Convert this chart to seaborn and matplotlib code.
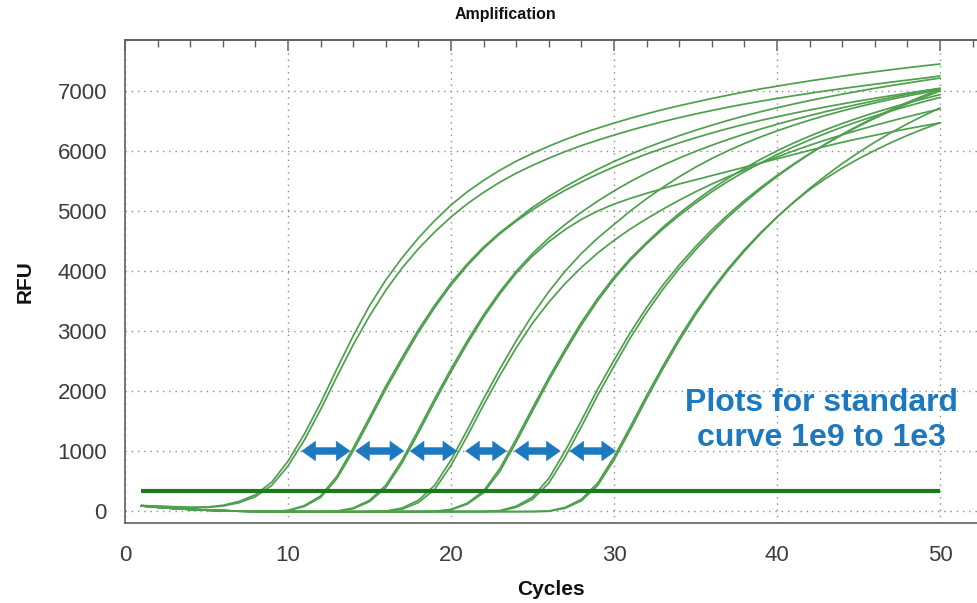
import numpy as np
import pandas as pd
import matplotlib
matplotlib.use("Agg")
import matplotlib.pyplot as plt
import seaborn as sns
from matplotlib.ticker import MultipleLocator

# ---------------- data ----------------
cycles = list(range(1, 51))

A1 = [92,82,72,64,66,95,160,270,480,830, 1280,1800,2370,2920,3420,3850,4220,4550,4840,5100,
      5320,5510,5680,5830,5960,6080,6190,6290,6380,6465, 6545,6620,6690,6755,6815,6875,6930,6985,7035,7080,
      7125,7168,7208,7247,7285,7320,7355,7388,7420,7450]
A2 = [86,76,67,58,58,82,138,238,425,750, 1180,1690,2240,2770,3250,3680,4050,4370,4650,4900,
      5120,5310,5480,5630,5760,5880,5990,6090,6180,6265, 6345,6420,6490,6555,6617,6675,6730,6782,6830,6876,
      6920,6962,7002,7040,7077,7113,7148,7182,7215,7250]
B1 = [88,64,44,27,15,6,-2,-6,-8,10, 90,250,580,1050,1560,2080,2560,3020,3430,3800,
      4120,4400,4640,4850,5060,5240,5405,5555,5695,5825, 5945,6055,6158,6255,6345,6430,6510,6585,6655,6720,
      6782,6840,6895,6947,6997,7045,7090,7133,7175,7215]
B2 = [84,60,41,25,13,4,-3,-7,-9,5, 75,225,540,1000,1510,2030,2510,2975,3390,3765,
      4090,4375,4620,4830,5020,5190,5345,5485,5615,5735, 5845,5950,6045,6135,6220,6300,6375,6445,6510,6570,
      6628,6683,6735,6785,6833,6878,6922,6964,7005,7045]
C1 = [90,66,45,28,16,7,-1,-5,-8,-10, -11,-11,-2,50,178,428,850,1352,1872,2368,
      2836,3270,3656,3996,4292,4548,4775,4980,5165,5335, 5490,5632,5762,5882,5993,6096,6192,6282,6366,6445,
      6520,6590,6657,6720,6780,6837,6892,6944,6994,7042]
C2 = [86,63,43,27,15,6,-2,-6,-9,-11, -12,-12,-5,38,155,390,800,1300,1820,2320,
      2790,3230,3620,3965,4250,4490,4690,4860,5000,5115, 5210,5295,5375,5450,5520,5590,5660,5730,5800,5870,
      5940,6010,6080,6145,6205,6262,6317,6370,6420,6470]
D1 = [87,64,44,27,15,6,-2,-6,-9,-10, -11,-11,-12,-11,-9,-2,50,178,428,850,
      1352,1872,2368,2836,3270,3656,3996,4292,4548,4775, 5000,5205,5395,5570,5730,5875,6005,6125,6235,6335,
      6428,6514,6594,6668,6737,6801,6861,6917,6969,7018]
D2 = [83,60,41,25,13,4,-4,-8,-10,-11, -12,-12,-12,-11,-10,-5,30,140,360,760,
      1250,1770,2260,2720,3130,3480,3790,4060,4300,4510, 4700,4870,5030,5180,5320,5450,5570,5685,5795,5900,
      6000,6095,6185,6270,6350,6427,6500,6570,6637,6700]
E1 = [89,65,45,28,16,7,-1,-5,-8,-10, -11,-12,-12,-12,-11,-11,-10,-9,-7,28,
      130,335,710,1200,1716,2224,2698,3146,3544,3899, 4207,4475,4730,4960,5170,5365,5545,5710,5862,6002,
      6130,6248,6357,6458,6552,6640,6722,6799,6871,6940]
E2 = [85,62,42,26,14,5,-3,-7,-9,-11, -12,-12,-13,-12,-12,-11,-11,-10,-8,20,
      115,305,660,1150,1665,2175,2650,3100,3505,3865, 4178,4452,4700,4925,5130,5320,5495,5655,5803,5940,
      6067,6185,6295,6398,6494,6584,6668,6747,6822,6893]
F1 = [88,64,44,27,15,6,-2,-6,-9,-10, -11,-11,-12,-12,-12,-11,-11,-10,-10,-9,
      -9,-9,7,80,232,542,1000,1508,2032,2512, 2974,3390,3764,4100,4405,4685,4940,5175,5392,5593,
      5780,5955,6118,6270,6412,6545,6670,6787,6897,7000]
F2 = [84,61,42,26,14,5,-3,-7,-10,-11, -12,-12,-13,-13,-12,-12,-11,-11,-10,-10,
      -10,-10,0,60,195,465,900,1405,1930,2415, 2885,3310,3695,4040,4352,4638,4900,5142,5366,5574,
      5768,5950,6120,6278,6425,6562,6690,6810,6922,7028]
G1 = [90,66,45,28,16,7,-1,-5,-8,-10, -11,-12,-12,-12,-12,-12,-11,-11,-11,-10,
      -10,-10,-10,-10,-9,0,60,196,466,900, 1404,1924,2416,2882,3310,3692,4040,4355,4640,4900,
      5138,5356,5545,5715,5870,6010,6140,6260,6370,6470]
G2 = [86,62,43,26,14,5,-3,-7,-10,-11, -12,-12,-13,-13,-13,-12,-12,-11,-11,-11,
      -10,-10,-10,-10,-10,-5,45,170,425,850, 1352,1872,2368,2836,3270,3660,4010,4330,4625,4895,
      5145,5375,5590,5790,5975,6147,6306,6453,6590,6716]

wells = ["A1", "A2", "B1", "B2", "C1", "C2", "D1", "D2", "E1", "E2", "F1", "F2", "G1", "G2"]
series = [A1, A2, B1, B2, C1, C2, D1, D2, E1, E2, F1, F2, G1, G2]

threshold = 340
threshold_span = [1, 50]

arrow_starts = [10.85, 14.15, 17.5, 20.9, 23.9, 27.3]
arrow_ends = [13.8, 17.1, 20.35, 23.4, 26.7, 30.1]
arrow_level = 1000

x_ticks = [0, 10, 20, 30, 40, 50]
y_ticks = [0, 1000, 2000, 3000, 4000, 5000, 6000, 7000]

title = "Amplification"
x_label = "Cycles"
y_label = "RFU"
note = "Plots for standard\ncurve 1e9 to 1e3"

# ---------------- build table ----------------
df = pd.DataFrame({
    "Cycle": np.tile(cycles, len(wells)),
    "RFU": np.concatenate([np.asarray(s, dtype=float) for s in series]),
    "Well": np.repeat(wells, len(cycles)),
})

# ---------------- style ----------------
sns.set_style("white")
plt.rcParams["font.family"] = ["Liberation Sans", "DejaVu Sans"]

fig = plt.figure(figsize=(9.77, 6.03), dpi=100)
ax = fig.add_axes([125 / 977, 1 - 522.7 / 603, 852 / 977, (522.7 - 40) / 603])

curve_color = "#4e9f4e"
thr_color = "#1c7a1c"
blue = "#1c79c0"
axis_color = "#606060"

sns.lineplot(data=df, x="Cycle", y="RFU", units="Well", estimator=None,
             color=curve_color, lw=1.25, ax=ax, legend=False, zorder=3)

ax.plot(threshold_span, [threshold, threshold], color=thr_color, lw=3.0,
        solid_capstyle="butt", zorder=4)

arrow_style = "simple,head_length=0.55,head_width=0.78,tail_width=0.27"
for s, e in zip(arrow_starts, arrow_ends):
    mid = (s + e) / 2
    for tip in (s, e):
        ax.annotate("", xy=(tip, arrow_level), xytext=(mid, arrow_level),
                    arrowprops=dict(arrowstyle=arrow_style, color=blue, lw=0.4,
                                    shrinkA=0, shrinkB=0, mutation_scale=18),
                    zorder=5)

ax.text(42.7, 1510, note, color=blue, ha="center", va="center",
        fontsize=23, fontweight="bold", linespacing=1.25,
        family=["Liberation Sans Narrow", "Liberation Sans", "DejaVu Sans"], zorder=6)

ax.set_xlim(0, 52.27)
ax.set_ylim(-195, 7850)

ax.xaxis.set_major_locator(MultipleLocator(10))
ax.xaxis.set_minor_locator(MultipleLocator(2))
ax.yaxis.set_major_locator(MultipleLocator(1000))
ax.yaxis.set_minor_locator(MultipleLocator(200))
ax.set_xticks(x_ticks)
ax.set_yticks(y_ticks)

ax.grid(True, which="major", color="#8a8a8a", linestyle=(0, (1, 3.5)), lw=1.0)
ax.set_axisbelow(True)

for side in ["left", "bottom", "top"]:
    ax.spines[side].set_color(axis_color)
    ax.spines[side].set_linewidth(1.2)
ax.spines["right"].set_visible(False)

ax.tick_params(axis="both", which="major", direction="inout", length=20, width=1.1,
               color=axis_color, labelsize=16, labelcolor="#3c3c3c")
ax.tick_params(axis="both", which="minor", direction="inout", length=10, width=1.0,
               color=axis_color)
ax.tick_params(axis="x", which="major", pad=6)
ax.tick_params(axis="y", which="major", pad=3)

sec = ax.secondary_xaxis("top")
sec.xaxis.set_major_locator(MultipleLocator(10))
sec.xaxis.set_minor_locator(MultipleLocator(2))
sec.tick_params(which="major", direction="in", length=8, width=1.1, color=axis_color,
                labeltop=False)
sec.tick_params(which="minor", direction="in", length=5, width=1.0, color=axis_color)
sec.spines["top"].set_color(axis_color)
sec.spines["top"].set_linewidth(1.2)

ax.set_xlabel(x_label, fontsize=15, fontweight="bold", labelpad=10, color="#111111")
ax.set_ylabel(y_label, fontsize=15, fontweight="bold", labelpad=16, color="#111111")

fig.text(505 / 977, 1 - 15 / 603, title, ha="center", va="center",
         fontsize=11.5, fontweight="bold", color="#111111")

fig.savefig("out.png", dpi=100)
